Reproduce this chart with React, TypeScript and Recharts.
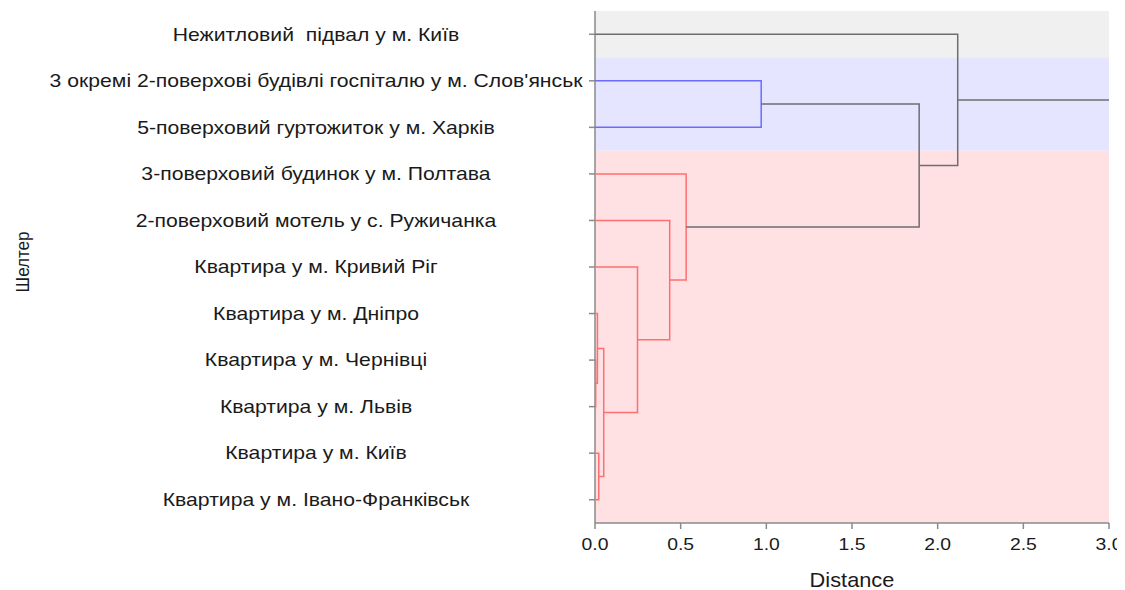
import { ScatterChart, Scatter, XAxis, YAxis, ReferenceArea, Label } from "recharts";

// leaves, top to bottom
const leafLabels = [
  "Нежитловий  підвал у м. Київ",
  "3 окремі 2-поверхові будівлі госпіталю у м. Слов'янськ",
  "5-поверховий гуртожиток у м. Харків",
  "3-поверховий будинок у м. Полтава",
  "2-поверховий мотель у с. Ружичанка",
  "Квартира у м. Кривий Ріг",
  "Квартира у м. Дніпро",
  "Квартира у м. Чернівці",
  "Квартира у м. Львів",
  "Квартира у м. Київ",
  "Квартира у м. Івано-Франківськ",
];

// merges: node ids 0..10 are leaves, merged nodes get 11, 12, ...
const mergePairs: [number, number][] = [
  [7, 8],
  [6, 11],
  [9, 10],
  [12, 13],
  [5, 14],
  [4, 15],
  [3, 16],
  [1, 2],
  [18, 17],
  [0, 19],
];
const mergeHeights = [0.004, 0.014, 0.022, 0.051, 0.248, 0.436, 0.532, 0.97, 1.892, 2.117];
const mergeGroups = ["red", "red", "red", "red", "red", "red", "red", "blue", "black", "black"];

// shaded cluster bands (leaf index ranges)
const bandStarts = [0, 1, 3];
const bandEnds = [1, 3, 11];
const bandGroups = ["black", "blue", "red"];

const xTicks = [0, 0.5, 1, 1.5, 2, 2.5, 3];

const lineColors: Record<string, string> = {
  red: "#ff6f6f",
  blue: "#6b6bff",
  black: "#6e6e6e",
};
const bandColors: Record<string, string> = {
  black: "#f0f0f0",
  blue: "#e6e5ff",
  red: "#ffe1e3",
};

const FONT = "Arial, 'Liberation Sans', sans-serif";
const TEXT = "#1a1a1a";

function buildLinks() {
  const ys: number[] = leafLabels.map((_, i) => i + 0.5);
  const hs: number[] = leafLabels.map(() => 0);
  const links = mergePairs.map(([a, b], k) => {
    const d = mergeHeights[k];
    const pts = [
      { x: hs[a], y: ys[a] },
      { x: d, y: ys[a] },
      { x: d, y: ys[b] },
      { x: hs[b], y: ys[b] },
    ];
    ys.push((ys[a] + ys[b]) / 2);
    hs.push(d);
    return { pts, group: mergeGroups[k] };
  });
  const root = ys.length - 1;
  const rootLine = [
    { x: hs[root], y: ys[root] },
    { x: xTicks[xTicks.length - 1], y: ys[root] },
  ];
  return { links, rootLine };
}

const { links, rootLine } = buildLinks();

const noDot = () => <g />;

function LeafTick(props: any) {
  const { x, y, payload } = props;
  return (
    <text
      transform={`translate(${x - 271},${y}) scale(1.177,1)`}
      dy="0.35em"
      textAnchor="middle"
      fontSize={18}
      fill={TEXT}
      fontFamily={FONT}
      style={{ whiteSpace: "pre" }}
    >
      {leafLabels[Math.floor(payload.value)]}
    </text>
  );
}

function DistTick(props: any) {
  const { x, y, payload } = props;
  return (
    <text
      transform={`translate(${x},${y}) scale(1.14,1)`}
      dy="0.71em"
      textAnchor="middle"
      fontSize={17}
      fill={TEXT}
      fontFamily={FONT}
    >
      {payload.value.toFixed(1)}
    </text>
  );
}

export default function App() {
  return (
    <div style={{ width: 1117, height: 582, background: "#fff" }}>
      <ScatterChart width={1117} height={582} margin={{ top: 3, right: 16, bottom: 0, left: 0 }}>
        {bandGroups.map((g, i) => (
          <ReferenceArea
            key={g}
            x1={0}
            x2={3}
            y1={bandStarts[i]}
            y2={bandEnds[i]}
            fill={bandColors[g]}
            fillOpacity={1}
            stroke="none"
          />
        ))}
        <XAxis
          type="number"
          dataKey="x"
          domain={[0, 3]}
          ticks={xTicks}
          height={67}
          tickSize={6}
          tickMargin={9}
          stroke="#8a8a8a"
          strokeWidth={1.5}
          tick={<DistTick />}
        >
          <Label
            content={({ viewBox }: any) => (
              <text
                transform={`translate(${viewBox.x + viewBox.width / 2},${viewBox.y + 64}) scale(1.09,1)`}
                textAnchor="middle"
                fontSize={20}
                fill={TEXT}
                fontFamily={FONT}
              >
                Distance
              </text>
            )}
          />
        </XAxis>
        <YAxis
          type="number"
          dataKey="y"
          domain={[0, leafLabels.length]}
          reversed
          ticks={leafLabels.map((_, i) => i + 0.5)}
          interval={0}
          width={587}
          tickSize={6}
          stroke="#8a8a8a"
          strokeWidth={1.5}
          tick={<LeafTick />}
        >
          <Label
            content={({ viewBox }: any) => {
              const cy = viewBox.y + viewBox.height / 2 - 5;
              return (
                <text
                  transform={`translate(14,${cy}) rotate(-90) scale(1,1.12)`}
                  dy="0.35em"
                  textAnchor="middle"
                  fontSize={17}
                  fill={TEXT}
                  fontFamily={FONT}
                >
                  Шелтер
                </text>
              );
            }}
          />
        </YAxis>
        {links.map((l, i) => (
          <Scatter
            key={i}
            data={l.pts}
            line={{ stroke: lineColors[l.group], strokeWidth: 1.5 }}
            lineType="joint"
            shape={noDot}
            isAnimationActive={false}
          />
        ))}
        <Scatter
          data={rootLine}
          line={{ stroke: lineColors.black, strokeWidth: 1.5 }}
          lineType="joint"
          shape={noDot}
          isAnimationActive={false}
        />
      </ScatterChart>
    </div>
  );
}
